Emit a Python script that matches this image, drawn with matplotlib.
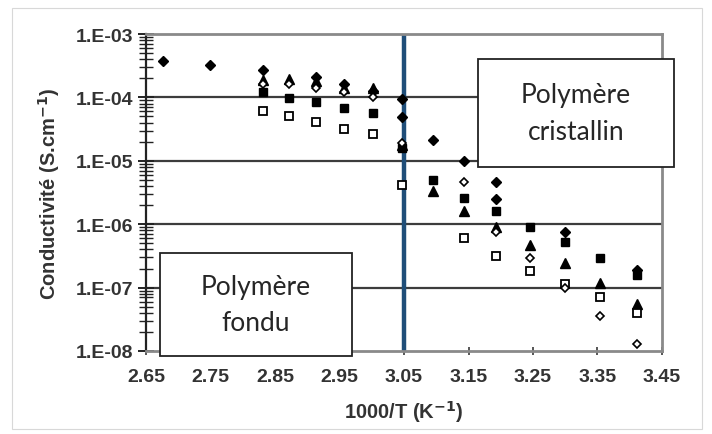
import numpy as np
import matplotlib
matplotlib.use("Agg")
import matplotlib.pyplot as plt
from matplotlib.patches import Rectangle
from matplotlib.ticker import FixedLocator, FixedFormatter, LogLocator, NullFormatter

nan = np.nan

# 1000/T (K-1) positions of the measurement columns
inv_T = [2.676, 2.749, 2.832, 2.872, 2.914, 2.957, 3.002, 3.047,
         3.095, 3.143, 3.193, 3.245, 3.299, 3.354, 3.411]

# conductivity (S/cm), one list per marker series
diamond_filled = [3.8e-4, 3.2e-4, 2.7e-4, nan, 2.1e-4, 1.6e-4, 1.27e-4, 9.4e-5,
                  2.1e-5, 1.0e-5, 4.7e-6, nan, 7.4e-7, nan, 1.9e-7]
diamond_filled_2 = [nan, nan, nan, nan, nan, nan, nan, 4.9e-5,
                    nan, nan, 2.5e-6, nan, nan, nan, nan]
triangle = [nan, nan, 1.9e-4, 1.95e-4, 1.8e-4, 1.4e-4, 1.4e-4, 1.8e-5,
            3.3e-6, 1.6e-6, 8.9e-7, 4.7e-7, 2.45e-7, 1.2e-7, 5.5e-8]
diamond_open = [nan, nan, 1.6e-4, 1.6e-4, 1.4e-4, 1.2e-4, 1.0e-4, 1.9e-5,
                nan, 4.7e-6, 7.6e-7, 2.9e-7, 1.0e-7, 3.6e-8, 1.3e-8]
square_filled = [nan, nan, 1.2e-4, 9.7e-5, 8.4e-5, 6.9e-5, 5.7e-5, 1.6e-5,
                 4.9e-6, 2.6e-6, 1.6e-6, 8.9e-7, 5.3e-7, 2.9e-7, 1.6e-7]
square_open = [nan, nan, 6.2e-5, 5.1e-5, 4.1e-5, 3.2e-5, 2.6e-5, 4.2e-6,
               nan, 6.0e-7, 3.2e-7, 1.86e-7, 1.15e-7, 7.1e-8, 4.0e-8]

x_ticks = [2.65, 2.75, 2.85, 2.95, 3.05, 3.15, 3.25, 3.35, 3.45]
x_tick_labels = ["2.65", "2.75", "2.85", "2.95", "3.05", "3.15", "3.25", "3.35", "3.45"]
y_ticks = [1e-8, 1e-7, 1e-6, 1e-5, 1e-4, 1e-3]
y_tick_labels = ["1.E-08", "1.E-07", "1.E-06", "1.E-05", "1.E-04", "1.E-03"]

transition = 3.05
box_labels = ["Polymère\ncristallin", "Polymère\nfondu"]

W, H = 712, 435
fig = plt.figure(figsize=(W / 100, H / 100), dpi=100)


def fx(px):
    return px / W


def fy(py):
    return 1 - py / H


# faint outer frame
fig.add_artist(Rectangle((fx(12), fy(430)), fx(702) - fx(12), fy(9) - fy(430),
                         transform=fig.transFigure, fill=False, ec="#d8d8d8", lw=0.8))

ax = fig.add_axes([fx(146), fy(352), fx(662) - fx(146), fy(35) - fy(352)])
ax.set_yscale("log")
ax.set_xlim(2.65, 3.45)
ax.set_ylim(1e-8, 1e-3)

for yv in y_ticks[1:-1]:
    ax.axhline(yv, color="#3c3c3c", lw=1.6, zorder=1)

ax.axvline(transition, color="#1f4e79", lw=3.2, zorder=2)

mk = dict(ls="none", color="black", zorder=3)
ax.plot(inv_T, diamond_filled, marker="D", ms=5.5, **mk)
ax.plot(inv_T, diamond_filled_2, marker="D", ms=5.5, **mk)
ax.plot(inv_T, triangle, marker="^", ms=7, **mk)
ax.plot(inv_T, square_filled, marker="s", ms=6, **mk)
ax.plot(inv_T, square_open, marker="s", ms=6, mfc="white", mew=1.3, **mk)
ax.plot(inv_T, diamond_open, marker="D", ms=4.2, mfc="white", mew=1.2, **mk)

for side in ["top", "right", "bottom"]:
    ax.spines[side].set_color("#8a8a8a")
    ax.spines[side].set_linewidth(2)
ax.spines["left"].set_color("#222222")
ax.spines["left"].set_linewidth(1.6)

ax.xaxis.set_major_locator(FixedLocator(x_ticks))
ax.xaxis.set_major_formatter(FixedFormatter(x_tick_labels))
ax.yaxis.set_major_locator(FixedLocator(y_ticks))
ax.yaxis.set_major_formatter(FixedFormatter(y_tick_labels))
ax.yaxis.set_minor_locator(LogLocator(base=10, subs=np.arange(2, 10), numticks=20))
ax.yaxis.set_minor_formatter(NullFormatter())

tick_font = dict(fontfamily="Liberation Sans", fontweight="bold", fontsize=14, color="#333333")
ax.tick_params(axis="y", which="major", direction="inout", length=12, width=1.4,
               color="#222222", pad=3)
ax.tick_params(axis="y", which="minor", direction="inout", length=10, width=1.0,
               color="#222222")
ax.tick_params(axis="x", which="major", direction="inout", length=6, width=1.4,
               color="#555555", pad=9)
for lab in ax.get_xticklabels() + ax.get_yticklabels():
    lab.set(**tick_font)

ax.set_xlabel("1000/T (K$^{\\mathbf{-1}}$)", fontfamily="Liberation Sans",
              fontweight="bold", fontsize=14.5, color="#333333", labelpad=10)
ax.set_ylabel("Conductivité (S.cm$^{\\mathbf{-1}}$)", fontfamily="Liberation Sans",
              fontweight="bold", fontsize=14.5, color="#333333", labelpad=10)

# annotation boxes (drawn on top of the axes, may overhang the frame)
boxes = [(478, 60, 674, 168), (160, 254, 352, 357)]
for (x0, y0, x1, y1), txt in zip(boxes, box_labels):
    fig.add_artist(Rectangle((fx(x0), fy(y1)), fx(x1) - fx(x0), fy(y0) - fy(y1),
                             transform=fig.transFigure, fc="white", ec="#222222",
                             lw=1.3, zorder=5))
    fig.text(fx((x0 + x1) / 2), fy((y0 + y1) / 2), txt, ha="center", va="center",
             fontfamily="Lato", fontsize=19, color="#262626", linespacing=1.55,
             zorder=6)

fig.savefig("out.png", dpi=100)
